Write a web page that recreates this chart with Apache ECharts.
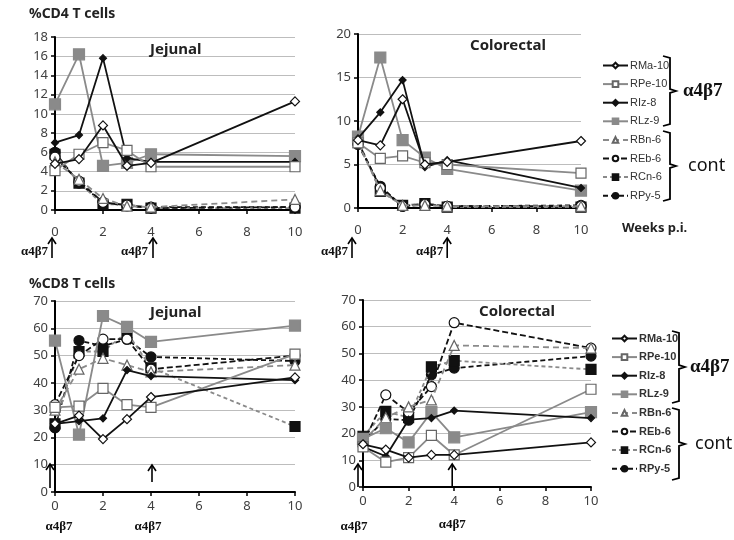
<!DOCTYPE html>
<html>
<head>
<meta charset="utf-8">
<script src="https://cdn.jsdelivr.net/npm/echarts@6/dist/echarts.min.js"></script>
<style>
  html, body { margin: 0; padding: 0; background: #fff; }
  #chart { width: 734px; height: 540px; }
</style>
</head>
<body>
<div id="chart"></div>
<script>
// weeks post infection
const weeks = [0, 1, 2, 3, 4, 10]
const animals = ['RMa-10', 'RPe-10', 'RIz-8', 'RLz-9', 'RBn-6', 'REb-6', 'RCn-6', 'RPy-5']

// one row per animal, same order as above
const cd4Jejunal = [
  [4.8, 5.3, 8.8, 4.6, 4.9, 11.3],
  [4.1, 5.8, 7.0, 6.2, 4.5, 4.5],
  [7.0, 7.8, 15.8, 5.4, 5.0, 5.0],
  [11.0, 16.2, 4.6, 4.9, 5.8, 5.6],
  [5.0, 3.2, 1.2, 0.4, 0.3, 1.1],
  [5.5, 3.0, 0.8, 0.5, 0.2, 0.3],
  [5.8, 2.8, 0.6, 0.6, 0.2, 0.2],
  [6.0, 2.8, 0.8, 0.4, 0.3, 0.3]
]
const cd4Colorectal = [
  [7.8, 7.2, 12.5, 5.0, 5.3, 7.7],
  [7.5, 5.7, 6.0, 5.2, 5.0, 4.0],
  [8.0, 11.0, 14.7, 4.7, 5.5, 2.3],
  [8.2, 17.3, 7.8, 5.8, 4.5, 2.0],
  [7.5, 2.0, 0.3, 0.3, 0.2, 0.2],
  [7.6, 2.3, 0.2, 0.4, 0.2, 0.2],
  [7.8, 1.9, 0.3, 0.5, 0.1, 0.1],
  [7.3, 2.5, 0.2, 0.5, 0.2, 0.3]
]
const cd8Jejunal = [
  [25, 28, 19.4, 26.7, 34.8, 42],
  [31, 31.5, 38, 32, 31, 50.5],
  [25, 26, 27, 44.7, 42.5, 41],
  [55.5, 21, 64.5, 60.5, 55, 61],
  [30, 45, 49, 46.5, 44, 46.5],
  [32, 50, 56, 56, 45, 50],
  [25, 51.5, 51.5, 58.5, 45.5, 24],
  [23.5, 55.5, 53.5, 56, 49.5, 48]
]
const cd8Colorectal = [
  [16, 14, 11, 12, 12, 16.7],
  [15, 9.3, 11, 19.3, 12, 36.6],
  [15, 11.5, 25.2, 25.8, 28.6, 25.8],
  [18, 22, 16.7, 28, 18.6, 28],
  [17, 26, 30, 32.6, 53, 52],
  [16, 34.5, 28, 37.6, 61.5, 52],
  [19, 28.3, 26, 45, 47.3, 44],
  [17, 25.5, 25, 42, 44.5, 49]
]

const BLACK = '#111'
const GRAY = '#8a8a8a'
const sty = [
  { symbol: 'diamond', size: 9, fill: '#fff', border: BLACK, line: BLACK, dash: 'solid' },
  { symbol: 'rect', size: 10, fill: '#fff', border: '#666', line: GRAY, dash: 'solid' },
  { symbol: 'diamond', size: 7, fill: BLACK, border: BLACK, line: BLACK, dash: 'solid' },
  { symbol: 'rect', size: 11, fill: GRAY, border: GRAY, line: GRAY, dash: 'solid' },
  { symbol: 'triangle', size: 10, fill: '#fff', border: '#666', line: GRAY, dash: [6, 4] },
  { symbol: 'circle', size: 10, fill: '#fff', border: BLACK, line: BLACK, dash: [6, 3] },
  { symbol: 'rect', size: 10, fill: BLACK, border: BLACK, line: GRAY, dash: [4, 3] },
  { symbol: 'circle', size: 10, fill: BLACK, border: BLACK, line: BLACK, dash: [5, 3] }
]

const panels = [cd4Jejunal, cd4Colorectal, cd8Jejunal, cd8Colorectal]
const yMax = [18, 20, 70, 70]
const yStep = [2, 5, 10, 10]
const grids = [
  { left: 55, top: 37, width: 240, height: 173 },
  { left: 358, top: 34, width: 223, height: 174 },
  { left: 55, top: 301, width: 240, height: 191 },
  { left: 363, top: 300, width: 228, height: 187 }
]
const labelMargin = [16, 16, 8, 8]

const axisFont = { fontFamily: 'Noto Sans', fontSize: 13, color: '#404040' }

const series = []
panels.forEach((rows, p) => {
  animals.forEach((name, i) => {
    const s = sty[i]
    series.push({
      name: name,
      type: 'line',
      xAxisIndex: p,
      yAxisIndex: p,
      data: weeks.map((w, j) => [w, rows[i][j]]),
      symbol: s.symbol,
      symbolSize: s.size,
      showSymbol: true,
      itemStyle: { color: s.fill, borderColor: s.border, borderWidth: 1.2 },
      lineStyle: { color: s.line, width: 1.8, type: s.dash },
      emphasis: { disabled: true },
      z: 10 - i
    })
  })
})

const legendBase = {
  orient: 'vertical',
  itemWidth: 25,
  itemHeight: 7,
  itemGap: 7.6,
  selectedMode: false,
  data: animals
}

const chart = echarts.init(document.getElementById('chart'))
chart.setOption({
  animation: false,
  title: [
    { text: '%CD4 T cells', left: 24, top: 2, textStyle: { fontFamily: 'Noto Sans', fontSize: 14, fontWeight: 'bold', color: '#222' } },
    { text: '%CD8 T cells', left: 24, top: 272, textStyle: { fontFamily: 'Noto Sans', fontSize: 14, fontWeight: 'bold', color: '#222' } },
    { text: 'Jejunal', left: 145, top: 37, textStyle: { fontFamily: 'Noto Sans', fontSize: 15, fontWeight: 'bold', color: '#222' } },
    { text: 'Colorectal', left: 465, top: 33, textStyle: { fontFamily: 'Noto Sans', fontSize: 15, fontWeight: 'bold', color: '#222' } },
    { text: 'Jejunal', left: 145, top: 300, textStyle: { fontFamily: 'Noto Sans', fontSize: 15, fontWeight: 'bold', color: '#222' } },
    { text: 'Colorectal', left: 474, top: 299, textStyle: { fontFamily: 'Noto Sans', fontSize: 15, fontWeight: 'bold', color: '#222' } },
    { text: 'Weeks p.i.', left: 617, top: 217, textStyle: { fontFamily: 'Noto Sans', fontSize: 13, fontWeight: 'bold', color: '#222' } }
  ],
  legend: [
    Object.assign({}, legendBase, {
      left: 597, top: 55,
      textStyle: { fontFamily: 'Liberation Sans', fontSize: 11, color: '#333', padding: [0, 0, 0, -3] }
    }),
    Object.assign({}, legendBase, {
      left: 606, top: 328,
      textStyle: { fontFamily: 'Liberation Sans', fontSize: 11, fontWeight: 'bold', color: '#333', padding: [0, 0, 0, -3] }
    })
  ],
  grid: grids,
  xAxis: grids.map((g, p) => ({
    type: 'value',
    gridIndex: p,
    min: 0,
    max: 10,
    interval: 2,
    axisLine: { lineStyle: { color: '#000', width: 2 } },
    axisTick: { show: true, length: 4, lineStyle: { color: '#000', width: 1.5 } },
    splitLine: { show: false },
    axisLabel: Object.assign({ margin: labelMargin[p] }, axisFont)
  })),
  yAxis: grids.map((g, p) => ({
    type: 'value',
    gridIndex: p,
    min: 0,
    max: yMax[p],
    interval: yStep[p],
    axisLine: { show: true, lineStyle: { color: '#000', width: 2 } },
    axisTick: { show: true, length: 4, lineStyle: { color: '#000', width: 1.5 } },
    splitLine: { lineStyle: { color: '#bdbdbd', width: 1 } },
    axisLabel: Object.assign({ margin: 7 }, axisFont)
  })),
  series: series
})

// treatment arrows + brackets
function arrow(x, yTip, yEnd) {
  return {
    type: 'group',
    children: [
      { type: 'line', shape: { x1: x, y1: yTip, x2: x, y2: yEnd }, style: { stroke: '#000', lineWidth: 1.6 } },
      { type: 'polyline', shape: { points: [[x - 4, yTip + 6], [x, yTip], [x + 4, yTip + 6]] }, style: { stroke: '#000', lineWidth: 1.6, fill: null } }
    ]
  }
}
function label(text, x, y, align) {
  return {
    type: 'text', x: x, y: y,
    style: { text: text, font: 'bold 13px "Liberation Serif"', fill: '#111', align: align || 'right', verticalAlign: 'middle' }
  }
}
function bracket(x, top, bottom, text, tx, font) {
  const mid = (top + bottom) / 2
  return {
    type: 'group',
    children: [
      { type: 'polyline', shape: { points: [[x - 7, top], [x, top + 2], [x, mid - 2], [x + 6, mid], [x, mid + 2], [x, bottom - 2], [x - 7, bottom]] }, style: { stroke: '#000', lineWidth: 1.8, fill: null } },
      { type: 'text', x: tx, y: mid, style: { text: text, font: font, fill: '#111', verticalAlign: 'middle' } }
    ]
  }
}

const px = (p, x) => chart.convertToPixel({ gridIndex: p }, [x, 0])[0]
const graphics = []
// top row, arrows below axis
graphics.push(arrow(px(0, 0) - 3, 238, 258), label('α4β7', px(0, 0) - 7, 252))
graphics.push(arrow(px(0, 4) + 2, 238, 258), label('α4β7', px(0, 4) - 3, 252))
graphics.push(arrow(px(1, 0) - 6, 238, 258), label('α4β7', px(1, 0) - 10, 252))
graphics.push(arrow(px(1, 4), 238, 258), label('α4β7', px(1, 4) - 4, 252))
// bottom row, arrows inside plot, labels under ticks
graphics.push(arrow(px(2, 0) - 5, 464, 488), label('α4β7', px(2, 0) + 4, 527, 'center'))
graphics.push(arrow(px(2, 4) + 1, 465, 482), label('α4β7', px(2, 4) - 3, 527, 'center'))
graphics.push(arrow(px(3, 0) - 5, 464, 487), label('α4β7', px(3, 0) - 9, 527, 'center'))
graphics.push(arrow(px(3, 4) - 2, 464, 487), label('α4β7', px(3, 4) - 2, 525, 'center'))
// legend brackets
graphics.push(bracket(670, 56, 126, 'α4β7', 683, 'bold 19px "Liberation Serif"'))
graphics.push(bracket(670, 131, 201, 'cont', 688, '18px "Noto Sans"'))
graphics.push(bracket(679, 331, 403, 'α4β7', 690, 'bold 19px "Liberation Serif"'))
graphics.push(bracket(679, 408, 480, 'cont', 695, '18px "Noto Sans"'))

chart.setOption({ graphic: graphics })
</script>
</body>
</html>
